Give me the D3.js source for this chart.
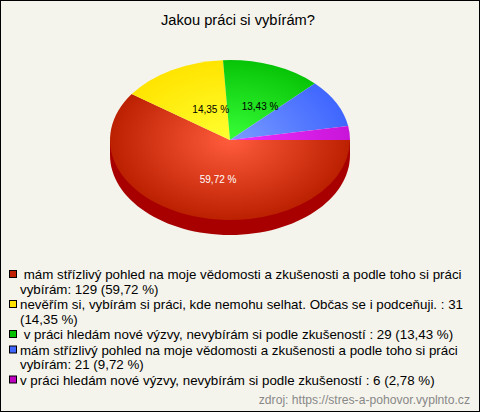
<!DOCTYPE html>
<html><head><meta charset="utf-8">
<script src="https://cdn.jsdelivr.net/npm/d3@7/dist/d3.min.js"></script>
<style>html,body{margin:0;padding:0;background:#fff}svg{display:block}text{font-family:"Liberation Sans",Arial,sans-serif}</style>
</head><body>
<svg id="c" width="480" height="412"></svg>
<script>
const titleText = "Jakou práci si vybírám?";
const sourceText = "zdroj: https://stres-a-pohovor.vyplnto.cz";
const values = [129, 31, 29, 21, 6];
const percentLabels = ["59,72 %", "14,35 %", "13,43 %", "", ""];
const labelColors = ["#fff", "#000", "#000", "#000", "#000"];
const innerColors = ["#ff5c3c", "#ffff30", "#38ff38", "#7a9cff", "#f030ff"];
const outerColors = ["#bb2000", "#ffe400", "#08c408", "#3f66ff", "#c814d8"];
const swatchColors = ["#c02000", "#ffe000", "#00c000", "#3f66ff", "#c000c0"];
const legendLines = [
  [" mám střízlivý pohled na moje vědomosti a zkušenosti a podle toho si práci", "vybírám: 129 (59,72 %)"],
  ["nevěřím si, vybírám si práci, kde nemohu selhat. Občas se i podceňuji. : 31", "(14,35 %)"],
  [" v práci hledám nové výzvy, nevybírám si podle zkušeností : 29 (13,43 %)"],
  ["mám střízlivý pohled na moje vědomosti a zkušenosti a podle toho si práci", "vybírám: 21 (9,72 %)"],
  ["v práci hledám nové výzvy, nevybírám si podle zkušeností : 6 (2,78 %)"]
];

const W = 480, H = 412, cx = 230, cy = 140, rx = 120, ry = 80, depth = 15;
const svg = d3.select("#c");
svg.append("rect").attr("x", 0.5).attr("y", 0.5).attr("width", W - 1).attr("height", H - 1)
  .attr("fill", "#f5f4ec").attr("stroke", "#000");

svg.append("text").attr("x", 238).attr("y", 25).attr("text-anchor", "middle")
  .attr("font-size", 14.67).attr("fill", "#000").text(titleText);

const pie = d3.pie().sort(null).startAngle(Math.PI / 2).endAngle(Math.PI / 2 + 2 * Math.PI);
const arcs = pie(values);
const arc = d3.arc().innerRadius(0).outerRadius(rx);

const defs = svg.append("defs");
values.forEach((v, i) => {
  const g = defs.append("radialGradient").attr("id", "g" + i)
    .attr("gradientUnits", "userSpaceOnUse").attr("cx", 0).attr("cy", 0).attr("r", rx);
  g.append("stop").attr("offset", 0).attr("stop-color", innerColors[i]);
  g.append("stop").attr("offset", 1).attr("stop-color", outerColors[i]);
});

// side wall (front half of the pie, belongs to the first slice)
const side = d3.path();
side.moveTo(cx - rx, cy);
side.lineTo(cx - rx, cy + depth);
side.bezierCurveTo(cx - rx, cy + depth + ry * 0.5523, cx - rx * 0.5523, cy + depth + ry, cx, cy + depth + ry);
side.bezierCurveTo(cx + rx * 0.5523, cy + depth + ry, cx + rx, cy + depth + ry * 0.5523, cx + rx, cy + depth);
side.lineTo(cx + rx, cy);
side.closePath();
svg.append("path").attr("d", side.toString()).attr("fill", "#a80000");

const topFace = svg.append("g").attr("transform", `translate(${cx},${cy}) scale(1,${ry / rx})`);
topFace.selectAll("path").data(arcs).join("path")
  .attr("d", arc).attr("fill", (d, i) => `url(#g${i})`);

// slice labels: placed along each slice's mid-angle, with a per-label nudge
const labelArc = d3.arc().innerRadius(rx * 0.33).outerRadius(rx * 0.33);
const labelNudgeX = [0, 0, 16, 0, 0];
const labelNudgeY = [-2, 14, 14, 0, 0];
svg.selectAll("text.pct").data(arcs).join("text").attr("class", "pct")
  .attr("x", (d, i) => cx + labelArc.centroid(d)[0] + labelNudgeX[i])
  .attr("y", (d, i) => cy + labelArc.centroid(d)[1] * 1.2 + labelNudgeY[i])
  .attr("text-anchor", "middle").attr("font-size", 10)
  .attr("fill", (d, i) => labelColors[i])
  .text((d, i) => percentLabels[i]);

// legend
const lineH = 14.5, gapH = 15.5, legendTop = 279;
const leg = svg.append("g");
let y = legendTop;
legendLines.forEach((lines, i) => {
  leg.append("rect").attr("x", 9.5).attr("y", y - 8.5).attr("width", 7).attr("height", 7)
    .attr("fill", swatchColors[i]).attr("stroke", "#000");
  lines.forEach((t, j) => {
    leg.append("text").attr("x", 20).attr("y", y + j * lineH).attr("font-size", 13.33)
      .attr("xml:space", "preserve").style("white-space", "pre").attr("fill", "#000").text(t);
  });
  y += (lines.length - 1) * lineH + gapH;
});

svg.append("text").attr("x", 470).attr("y", 404).attr("text-anchor", "end")
  .attr("font-size", 12.15).attr("fill", "#888").text(sourceText);
</script>
</body></html>
